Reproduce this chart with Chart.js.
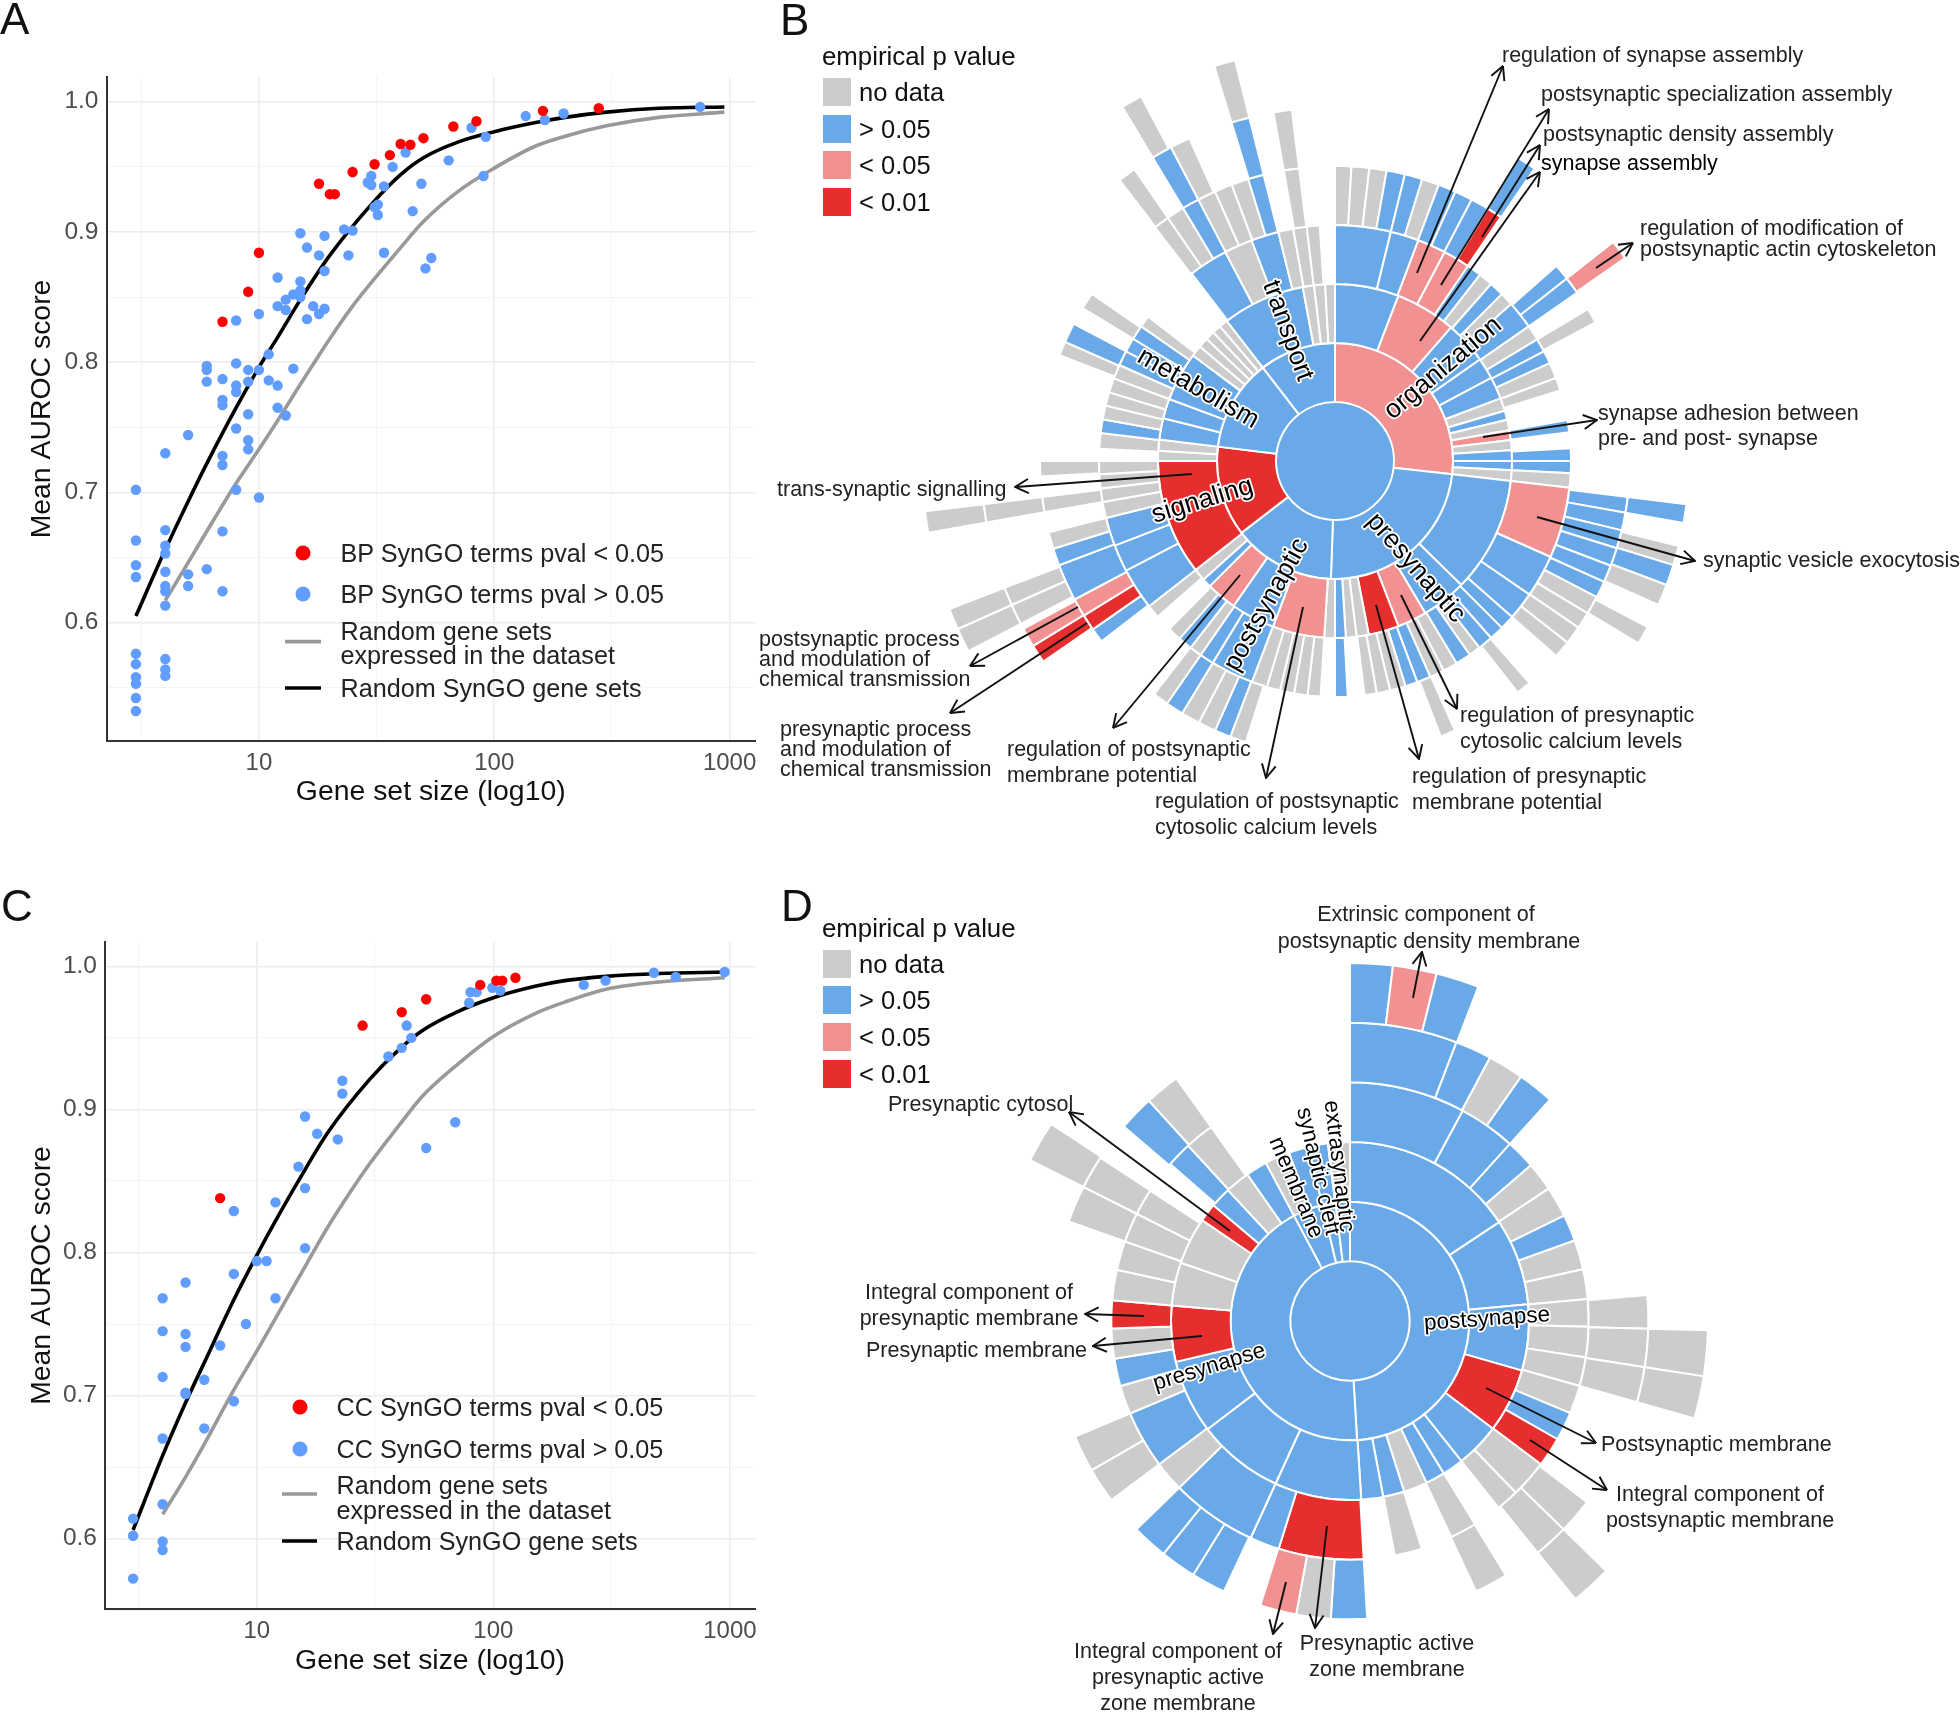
<!DOCTYPE html>
<html>
<head>
<meta charset="utf-8">
<title>SynGO AUROC and sunburst panels</title>
<script src="https://cdn.jsdelivr.net/npm/chart.js@4"></script>
<style>
  html, body { margin: 0; padding: 0; background: #fff; }
  #page { position: relative; width: 1960px; height: 1712px; overflow: hidden; font-family: "Liberation Sans", sans-serif; }
  canvas { position: absolute; }
  #notes { position: absolute; left: 0; top: 0; }
</style>
</head>
<body>
<div id="page">
  <canvas id="chartA" width="775" height="760" style="left:0;top:60px;width:775px;height:760px"></canvas>
  <canvas id="chartB" width="828" height="828" style="left:921px;top:47px;width:828px;height:828px"></canvas>
  <canvas id="chartC" width="775" height="764" style="left:0;top:925px;width:775px;height:764px"></canvas>
  <canvas id="chartD" width="718" height="718" style="left:991px;top:962px;width:718px;height:718px"></canvas>
  <svg id="notes" width="1960" height="1712" xmlns="http://www.w3.org/2000/svg">
    <defs>
      <marker id="open" viewBox="0 0 10 10" refX="9.6" refY="5" markerWidth="16" markerHeight="16" markerUnits="userSpaceOnUse" orient="auto">
        <path d="M1.2 0.6 L9.6 5 L1.2 9.4" fill="none" stroke="#111" stroke-width="1.2"/>
      </marker>
    </defs>
  </svg>
</div>
<script>
// Panel A - BP terms, gene set size against mean AUROC
const bpSigSize = [7, 9, 10, 18, 20, 21, 25, 31, 36, 40, 44, 50, 67, 84, 161, 278];
const bpSigAuroc = [0.831, 0.854, 0.884, 0.937, 0.929, 0.929, 0.946, 0.952, 0.959, 0.9675, 0.967, 0.972, 0.981, 0.985, 0.993, 0.995];
const bpOtherSize = [
  3, 3, 3, 3, 3, 3, 3, 3, 3, 3,
  4, 4, 4, 4, 4, 4, 4, 4, 4, 4, 4,
  5, 5, 5, 6, 6, 6, 6,
  7, 7, 7, 7, 7, 7, 7,
  8, 8, 8, 8, 8, 8,
  9, 9, 9, 9, 9,
  10, 10, 10, 11, 11,
  12, 12, 12, 12, 13, 13, 13, 14, 14,
  15, 15, 15, 15, 16, 16, 17, 18, 18, 19, 19, 19,
  23, 24, 25, 29, 30, 30, 31, 32, 32, 34, 34, 37, 42, 45, 49, 51, 54, 64, 80, 90, 92, 136, 164, 197, 750
];
const bpOtherAuroc = [
  0.702, 0.663, 0.644, 0.635, 0.576, 0.568, 0.558, 0.553, 0.542, 0.532,
  0.730, 0.671, 0.659, 0.653, 0.639, 0.628, 0.624, 0.613, 0.572, 0.564, 0.559,
  0.744, 0.637, 0.628, 0.797, 0.794, 0.785, 0.641,
  0.787, 0.771, 0.767, 0.728, 0.721, 0.670, 0.624,
  0.832, 0.799, 0.782, 0.777, 0.749, 0.702,
  0.794, 0.785, 0.760, 0.740, 0.733,
  0.837, 0.794, 0.696, 0.806, 0.786,
  0.865, 0.843, 0.782, 0.765, 0.848, 0.840, 0.759, 0.852, 0.795,
  0.899, 0.862, 0.855, 0.850, 0.888, 0.833, 0.843, 0.882, 0.837, 0.897, 0.870, 0.841,
  0.902, 0.882, 0.901, 0.938, 0.943, 0.936, 0.919, 0.921, 0.913, 0.935, 0.884, 0.950, 0.961, 0.916, 0.937, 0.872, 0.880, 0.955, 0.980, 0.943, 0.973, 0.989, 0.986, 0.991, 0.996
];
const curveSizes = [3, 4, 5, 6, 8, 10, 12, 15, 20, 30, 40, 50, 70, 100, 150, 200, 300, 500, 950];
const bpSyngoCurve = [0.605, 0.656, 0.693, 0.722, 0.765, 0.796, 0.819, 0.848, 0.882, 0.921, 0.944, 0.957, 0.969, 0.977, 0.984, 0.988, 0.992, 0.995, 0.996];
const expressedSizes = [4, 5, 6, 8, 10, 12, 15, 20, 25, 30, 40, 50, 70, 100, 150, 200, 300, 500, 950];
const bpExpressedCurve = [0.617, 0.646, 0.670, 0.707, 0.733, 0.755, 0.783, 0.818, 0.843, 0.861, 0.888, 0.908, 0.931, 0.949, 0.966, 0.9735, 0.9815, 0.988, 0.992];

// Panel C - CC terms
const ccSigSize = [7, 28, 41, 52, 88, 103, 109, 124];
const ccSigAuroc = [0.838, 0.9586, 0.968, 0.977, 0.987, 0.990, 0.990, 0.992];
const ccOtherSize = [
  3, 3, 3, 4, 4, 4, 4, 4, 4, 4, 5, 5, 5, 5, 5, 6, 6, 7, 8, 8, 8, 9, 10, 11, 12, 12,
  15, 16, 16, 16, 18, 22, 23, 23, 36, 41, 43, 45, 52, 69, 79, 80, 85, 99, 107, 241, 298, 477, 590, 950
];
const ccOtherAuroc = [
  0.614, 0.602, 0.572, 0.768, 0.745, 0.713, 0.670, 0.624, 0.598, 0.592, 0.779, 0.743, 0.734, 0.702, 0.701, 0.711, 0.677, 0.735, 0.829, 0.785, 0.696, 0.750, 0.794, 0.794, 0.835, 0.768,
  0.860, 0.895, 0.845, 0.803, 0.883, 0.879, 0.920, 0.911, 0.937, 0.943, 0.9586, 0.950, 0.873, 0.891, 0.9745, 0.982, 0.982, 0.985, 0.983, 0.987, 0.990, 0.9955, 0.9926, 0.996
];
const ccSyngoCurve = [0.606, 0.658, 0.695, 0.723, 0.767, 0.798, 0.822, 0.850, 0.884, 0.921, 0.942, 0.955, 0.968, 0.978, 0.986, 0.990, 0.993, 0.995, 0.996];
const ccExpressedCurve = [0.617, 0.643, 0.666, 0.704, 0.731, 0.754, 0.782, 0.818, 0.843, 0.862, 0.889, 0.909, 0.931, 0.951, 0.967, 0.975, 0.984, 0.989, 0.992];

// Axis ticks shared by both scatter panels
const xTickValues = [3.16, 10, 31.6, 100, 316, 1000];
const xTickLabels = [10, 100, 1000];
const yTickValues = [0.55, 0.6, 0.65, 0.7, 0.75, 0.8, 0.85, 0.9, 0.95, 1.0];
const yTickLabels = [0.6, 0.7, 0.8, 0.9, 1.0];

// Sunburst B, ring sizes in degrees going clockwise from the top.
// status: b > 0.05, p < 0.05, r < 0.01, n no data, - empty gap
const bCentreSizes = [360];
const bCentreStatus = 'b';
const bRing1Sizes = [96.5, 85.5, 50.5, 44.5, 45.3, 37.7];
const bRing1Status = 'pbbrbb';
const bRing2Sizes = [21, 20, 14, 7, 7.3, 4.2, 3, 3.5, 3.2, 3.3, 3.5, 3, 3.5, 38, 14.8, 9.7, 10, 4, 3.5, 3.5, 3.5, 17, 14.5, 10, 3, 4, 38, 3.3, 3.7, 7, 6.5, 16.1, 3.7, 3.3, 3, 2.9, 2.8, 27.2, 3.7, 3.6, 3.2];
const bRing2Status = 'bpbbbnbnpnbbn' + 'bbprnnbnpbpbnr' + 'nnbbbnnnnnbnnn';
const bRing3Sizes = [
  13.7, 7, 7, 6.6, 3.6, 3.5, 3.6, 3.3, 6.9, 3.8, 3.3, 3.2, 3.9, 3.2, 7.4, 3, 3.9, 3.1, 3, 3.5,
  17.5, 10.5, 6.9, 3.6, 3.6, 3.7, 2.9, 3.8, 3.6, 3.6, 3.4, 3, 3.9, 3.3, 3, 4.1, 3.1, 3.5,
  3.2, 3.3, 3.5, 3.3, 3.8, 10.6, 3.5, 3, 3.5, 3.4, 4.1, 3.3,
  10.3, 6.7, 7, 4, 3.3, 3.5, 3.2, 3, 3.8, 3.4, 3.4, 3.3, 3.6, 3.5, 3.7, 3.5, 3.6, 2.9, 14.9,
  9.7, 7, 6.8, 3.7, 3.3, 3.2, 3.7
];
const bRing3Status = 'bbppbnbnbnbbnn-b-bbn' + 'pbbbbbnbnnbbnnn-b-' + 'nnnnnbbnbn-n' + 'bbbnnnn-nbnnnnbbbn-' + 'bnbnnn-';
const bRing4Sizes = [
  3.2, 3.5, 3.4, 3.6, 3.5, 3.4, 3.5, 3.5, 3.6, 3, 14.4, 3.2, 3.4, 3.8, 3, 35,
  3.1, 3.5, 3.6, 3.6, 3.4, 3.3, 3.6, 3.3, 3.6, 3.4, 7.4, 2.9, 14.3, 3, 38.6,
  3.2, 3.2, 3.5, 3.7, 3.5, 3.1, 14.5, 2.9, 3.2, 3.6, 7.3, 3.4, 3.3, 4, 3, 4, 3, 21,
  2.8, 3.9, 3.5, 3.3, 17.9, 3.1, 3.5, 3.4, 3.6, 3.5, 3.4, 3.1, 4, 3, 7
];
const bRing4Status = 'nnnbbnbbbr-bb-n-' + 'bbbbbbnnnn-n-n-' + 'nbnnbn-brpbbn-n-n-' + 'nb-n-nnbnnnb-n-';
const bRing5Sizes = [31.2, 3.1, 17.5, 3.2, 42, 3.1, 3.8, 3.2, 3.4, 3.5, 4, 3, 114.5, 3, 3.2, 0.9, 3.4, 3, 11, 3, 59.5, 3, 3.5, 3.4, 3.3, 7.3, 3, 4, 3, 7];
const bRing5Status = '-b-p-b-nbn-n-rp-nn-n-n-bn-b-n-';
const bRing6Sizes = [242.6, 3.4, 3, 11, 3, 66, 3, 11, 3, 14];
const bRing6Status = '-nn-n-n-n-';

// Sunburst D
const dCentreSizes = [360];
const dCentreStatus = 'b';
const dRing1Sizes = [176.6, 155.4, 14.6, 6.4, 7];
const dRing1Status = 'bbbbb';
const dRing2Sizes = [56.5, 28.1, 21.5, 20.9, 14.5, 6.9, 6.3, 7.7, 6.9, 7.1, 28.2, 28.2, 24, 18.2, 14, 15.3, 6, 6.7, 8, 7, 8.1, 6.5, 6.3, 7.1];
const dRing2Status = 'bbbrbbbnbbbbbrnnrbnbnbbn';
const dRing3Sizes = [28.2, 13.9, 7.2, 7, 7.5, 6.5, 7.2, 7.2, 6.7, 7.4, 7, 6.9, 7, 7.2, 9.1, 5.5, 6.9, 6.5, 7.6, 6.7, 7.5, 20.7, 7.2, 21.1, 7.4, 14.1, 7, 6.7, 7.3, 6.8, 7.4, 7.1, 7.2, 6.4, 8, 6.2, 7.1, 35.6];
const dRing3Status = 'bbbnnbnnnnnnbrnn-n-n-rbbnbnbnrnnnn-bn-';
const dRing4Sizes = [20.9, 7.1, 7, 7.1, 42.9, 6.5, 7.4, 6.9, 21.6, 6.9, 6.7, 7.5, 6.5, 21.7, 7, 6.7, 7.1, 7.5, 6.7, 7, 7, 7.4, 6.9, 7.2, 42.3, 7.2, 6.5, 7.5, 6.9, 6.8, 35.6];
const dRing4Status = 'bbnb-nnn-nn-n-bnp-bbb-nn-nn-bn-';
const dRing5Sizes = [6.9, 7.1, 7, 70.5, 7.4, 6.9, 28.5, 6.7, 155.7, 6.7, 56.6];
const dRing5Status = 'bpb-nn-n-n-';

const statusColors = { b: '#69a9e7', p: '#f29191', r: '#e62e2e', n: '#cccccc', '-': 'rgba(0,0,0,0)' };

function toPoints(xs, ys) {
    return xs.map((x, i) => ({ x: x, y: ys[i] }));
}

function curveDataset(label, xs, ys, color) {
    return {
        label: label,
        data: toPoints(xs, ys),
        showLine: true,
        borderColor: color,
        borderWidth: 3.6,
        pointRadius: 0,
        cubicInterpolationMode: 'monotone',
        order: 2
    };
}

function dotDataset(label, xs, ys, color, order) {
    return {
        label: label,
        data: toPoints(xs, ys),
        backgroundColor: color,
        borderWidth: 0,
        pointRadius: 5.2,
        order: order
    };
}

function drawScatter(id, datasets, box) {
    new Chart(document.getElementById(id), {
        type: 'scatter',
        data: { datasets: datasets },
        options: {
            responsive: false,
            animation: false,
            layout: { padding: { top: box.top, right: box.right, left: 0, bottom: 0 } },
            plugins: { legend: { display: false }, tooltip: { enabled: false } },
            scales: {
                x: {
                    type: 'logarithmic',
                    min: box.xMin,
                    max: box.xMax,
                    bounds: 'data',
                    afterBuildTicks: scale => { scale.ticks = xTickValues.map(v => ({ value: v })); },
                    afterFit: scale => {
                        scale.height = box.axisHeight;
                        scale.paddingLeft = 0;
                        scale.paddingRight = 0;
                    },
                    border: { color: '#333', width: 2 },
                    grid: {
                        drawTicks: false,
                        color: ctx => xTickLabels.includes(ctx.tick.value) ? '#ececec' : '#f4f4f4',
                        lineWidth: ctx => xTickLabels.includes(ctx.tick.value) ? 1.6 : 1
                    },
                    ticks: {
                        autoSkip: false,
                        maxRotation: 0,
                        padding: 8,
                        color: '#4d4d4d',
                        font: { family: 'Liberation Sans', size: 24 },
                        callback: v => xTickLabels.includes(v) ? String(v) : ''
                    },
                    title: {
                        display: true,
                        text: 'Gene set size (log10)',
                        color: '#111',
                        font: { family: 'Liberation Sans', size: 28.4 },
                        padding: { top: 0, bottom: 11 }
                    }
                },
                y: {
                    min: box.yMin,
                    max: box.yMax,
                    afterBuildTicks: scale => { scale.ticks = yTickValues.map(v => ({ value: v })); },
                    afterFit: scale => {
                        scale.width = box.axisWidth;
                        scale.paddingTop = 0;
                        scale.paddingBottom = 0;
                    },
                    border: { color: '#333', width: 2 },
                    grid: {
                        drawTicks: false,
                        color: ctx => yTickLabels.includes(ctx.tick.value) ? '#ececec' : '#f4f4f4',
                        lineWidth: ctx => yTickLabels.includes(ctx.tick.value) ? 1.6 : 1
                    },
                    ticks: {
                        autoSkip: false,
                        padding: 8,
                        color: '#4d4d4d',
                        font: { family: 'Liberation Sans', size: 24.5 },
                        callback: v => yTickLabels.includes(v) ? v.toFixed(1) : ''
                    },
                    title: {
                        display: true,
                        text: 'Mean AUROC score',
                        color: '#111',
                        font: { family: 'Liberation Sans', size: 28.4 },
                        padding: { top: 25, bottom: 0 }
                    }
                }
            }
        }
    });
}

// Rings stack as concentric doughnut datasets, dataset 0 is the outermost
function drawSunburst(id, rings) {
    const datasets = rings.map(ring => {
        const flags = ring.status.split('');
        const noEdge = s => s === '-' || flags.length === 1;
        return {
            data: ring.sizes,
            backgroundColor: flags.map(s => statusColors[s]),
            borderColor: flags.map(s => noEdge(s) ? 'rgba(0,0,0,0)' : '#ffffff'),
            borderWidth: flags.map(s => noEdge(s) ? 0 : 2)
        };
    });
    new Chart(document.getElementById(id), {
        type: 'doughnut',
        data: { labels: rings[0].sizes.map((_, i) => i), datasets: datasets },
        options: {
            responsive: false,
            animation: false,
            cutout: 0,
            layout: { padding: 0 },
            plugins: { legend: { display: false }, tooltip: { enabled: false } }
        }
    });
}

drawScatter('chartA', [
    dotDataset('BP SynGO terms pval < 0.05', bpSigSize, bpSigAuroc, '#ff0000', 0),
    dotDataset('BP SynGO terms pval > 0.05', bpOtherSize, bpOtherAuroc, '#619cff', 1),
    curveDataset('Random SynGO gene sets', curveSizes, bpSyngoCurve, '#000000'),
    curveDataset('Random gene sets expressed in the dataset', expressedSizes, bpExpressedCurve, '#999999')
], { top: 17, right: 20, axisWidth: 106.5, axisHeight: 79, xMin: 2.25, xMax: 1282, yMin: 0.509, yMax: 1.019 });

drawScatter('chartC', [
    dotDataset('CC SynGO terms pval < 0.05', ccSigSize, ccSigAuroc, '#ff0000', 0),
    dotDataset('CC SynGO terms pval > 0.05', ccOtherSize, ccOtherAuroc, '#619cff', 1),
    curveDataset('Random SynGO gene sets', curveSizes, ccSyngoCurve, '#000000'),
    curveDataset('Random gene sets expressed in the dataset', expressedSizes, ccExpressedCurve, '#999999')
], { top: 17, right: 20, axisWidth: 105, axisHeight: 80, xMin: 2.283, xMax: 1276, yMin: 0.5508, yMax: 1.017 });

drawSunburst('chartB', [
    { sizes: bRing6Sizes, status: bRing6Status },
    { sizes: bRing5Sizes, status: bRing5Status },
    { sizes: bRing4Sizes, status: bRing4Status },
    { sizes: bRing3Sizes, status: bRing3Status },
    { sizes: bRing2Sizes, status: bRing2Status },
    { sizes: bRing1Sizes, status: bRing1Status },
    { sizes: bCentreSizes, status: bCentreStatus }
]);

drawSunburst('chartD', [
    { sizes: dRing5Sizes, status: dRing5Status },
    { sizes: dRing4Sizes, status: dRing4Status },
    { sizes: dRing3Sizes, status: dRing3Status },
    { sizes: dRing2Sizes, status: dRing2Status },
    { sizes: dRing1Sizes, status: dRing1Status },
    { sizes: dCentreSizes, status: dCentreStatus }
]);

// Letters, legends, callouts and arc labels go on an svg layer above the canvases
const svg = document.getElementById('notes');
const svgNS = 'http://www.w3.org/2000/svg';

function addShape(tag, attrs) {
    const el = document.createElementNS(svgNS, tag);
    Object.keys(attrs).forEach(k => el.setAttribute(k, attrs[k]));
    svg.appendChild(el);
    return el;
}

function addText(str, x, y, size, opts) {
    const o = opts || {};
    const el = addShape('text', {
        x: x, y: y,
        'font-family': 'Liberation Sans',
        'font-size': size,
        fill: o.fill || '#222',
        'text-anchor': o.anchor || 'start',
        'dominant-baseline': o.baseline || 'central'
    });
    el.textContent = str;
    return el;
}

function addArcLabel(str, x, y, size, angle) {
    const el = addText(str, x, y, size, { anchor: 'middle', fill: '#000' });
    el.setAttribute('transform', `rotate(${angle} ${x} ${y})`);
    el.setAttribute('stroke', '#fff');
    el.setAttribute('stroke-width', 3.5);
    el.setAttribute('paint-order', 'stroke');
    el.setAttribute('stroke-linejoin', 'round');
}

function addArrow(x1, y1, x2, y2) {
    addShape('line', { x1: x1, y1: y1, x2: x2, y2: y2, stroke: '#111', 'stroke-width': 1.9, 'marker-end': 'url(#open)' });
}

function addScatterLegend(prefix, textX, symX, lineX1, lineX2, rows) {
    addShape('circle', { cx: symX, cy: rows[0], r: 7.5, fill: '#ff0000' });
    addShape('circle', { cx: symX, cy: rows[1], r: 7.5, fill: '#619cff' });
    addShape('line', { x1: lineX1, x2: lineX2, y1: rows[5], y2: rows[5], stroke: '#999999', 'stroke-width': 3.6 });
    addShape('line', { x1: lineX1, x2: lineX2, y1: rows[4], y2: rows[4], stroke: '#000000', 'stroke-width': 3.6 });
    addText(prefix + ' SynGO terms pval < 0.05', textX, rows[0], 25.2);
    addText(prefix + ' SynGO terms pval > 0.05', textX, rows[1], 25.2);
    addText('Random gene sets', textX, rows[2], 25.2);
    addText('expressed in the dataset', textX, rows[3], 25.2);
    addText('Random SynGO gene sets', textX, rows[4], 25.2);
}

function addPLegend(titleX, titleY, boxTops, boxH) {
    addText('empirical p value', titleX, titleY, 25.8, { fill: '#111' });
    const names = ['no data', '> 0.05', '< 0.05', '< 0.01'];
    const keys = ['n', 'b', 'p', 'r'];
    names.forEach((name, i) => {
        addShape('rect', { x: 823, y: boxTops[i], width: 28, height: boxH, fill: statusColors[keys[i]] });
        addText(name, 859, boxTops[i] + boxH / 2, 25.5, { fill: '#111' });
    });
}

addText('A', 0, 34, 44, { baseline: 'auto', fill: '#111' });
addText('B', 780, 35, 44, { baseline: 'auto', fill: '#111' });
addText('C', 1, 921, 44, { baseline: 'auto', fill: '#111' });
addText('D', 781, 921, 44, { baseline: 'auto', fill: '#111' });

addScatterLegend('BP', 340.5, 303, 285, 321, [553, 594, 631, 655, 688, 641.6]);
addScatterLegend('CC', 336.5, 300, 282, 317, [1407, 1449, 1485, 1509.5, 1541, 1494]);
addPLegend(822, 56, [78, 115, 151, 188], 28);
addPLegend(822, 928, [950, 986, 1023, 1060], 28);

// Panel B callouts
[
    ['regulation of synapse assembly', 1502, 55],
    ['postsynaptic specialization assembly', 1541, 94],
    ['postsynaptic density assembly', 1543, 134],
    ['regulation of modification of', 1640, 228],
    ['postsynaptic actin cytoskeleton', 1640, 249],
    ['synapse adhesion between', 1598, 413],
    ['pre- and post- synapse', 1598, 438],
    ['synaptic vesicle exocytosis', 1703, 560],
    ['regulation of presynaptic', 1460, 715],
    ['cytosolic calcium levels', 1460, 741],
    ['regulation of presynaptic', 1412, 776],
    ['membrane potential', 1412, 802],
    ['regulation of postsynaptic', 1007, 749],
    ['membrane potential', 1007, 775],
    ['regulation of postsynaptic', 1155, 801],
    ['cytosolic calcium levels', 1155, 827],
    ['presynaptic process', 780, 729],
    ['and modulation of', 780, 749],
    ['chemical transmission', 780, 769],
    ['postsynaptic process', 759, 639],
    ['and modulation of', 759, 659],
    ['chemical transmission', 759, 679],
    ['trans-synaptic signalling', 777, 489]
].forEach(t => addText(t[0], t[1], t[2], 21.5));
addText('synapse assembly', 1541, 163, 21.5, { fill: '#000' });

[
    [1417, 273, 1503, 66],
    [1441, 285, 1549, 109],
    [1482, 237, 1540, 145],
    [1420, 341, 1540, 172],
    [1596, 268, 1633, 243],
    [1483, 437, 1597, 420],
    [1537, 517, 1695, 561],
    [1401, 595, 1457, 709],
    [1376, 605, 1419, 759],
    [1303, 607, 1266, 778],
    [1240, 575, 1113, 728],
    [1087, 623, 950, 713],
    [1078, 607, 970, 666],
    [1192, 474, 1015, 487]
].forEach(a => addArrow(a[0], a[1], a[2], a[3]));

addArcLabel('organization', 1442, 367, 26.5, -40);
addArcLabel('transport', 1289, 330, 26.5, 70);
addArcLabel('metabolism', 1199, 387, 26.5, 30);
addArcLabel('signaling', 1202, 499, 26.5, -17);
addArcLabel('postsynaptic', 1265, 604, 26.5, -61);
addArcLabel('presynaptic', 1417, 567, 26.5, 49);

// Panel D callouts
[
    ['Extrinsic component of', 1426, 914],
    ['postsynaptic density membrane', 1429, 941],
    ['Integral component of', 969, 1292],
    ['presynaptic membrane', 969, 1318],
    ['Integral component of', 1720, 1494],
    ['postsynaptic membrane', 1720, 1520],
    ['Presynaptic active', 1387, 1643],
    ['zone membrane', 1387, 1669],
    ['Integral component of', 1178, 1651],
    ['presynaptic active', 1178, 1677],
    ['zone membrane', 1178, 1703]
].forEach(t => addText(t[0], t[1], t[2], 21.5, { anchor: 'middle' }));
addText('Presynaptic cytosol', 888, 1104, 21.5);
addText('Presynaptic membrane', 866, 1350, 21.5);
addText('Postsynaptic membrane', 1601, 1444, 21.5);

[
    [1413, 998, 1422, 952],
    [1230, 1231, 1069, 1112],
    [1144, 1316, 1085, 1314],
    [1202, 1336, 1093, 1346],
    [1486, 1388, 1596, 1443],
    [1530, 1440, 1607, 1490],
    [1327, 1526, 1315, 1628],
    [1286, 1582, 1273, 1634]
].forEach(a => addArrow(a[0], a[1], a[2], a[3]));

addArcLabel('postsynapse', 1487, 1318, 22.5, -4);
addArcLabel('presynapse', 1209, 1366, 22.5, -17);
addArcLabel('membrane', 1297, 1187, 22.5, 67);
addArcLabel('synaptic cleft', 1319, 1171, 22.5, 77);
addArcLabel('extrasynaptic', 1340, 1166, 22.5, 83);
</script>
</body>
</html>
